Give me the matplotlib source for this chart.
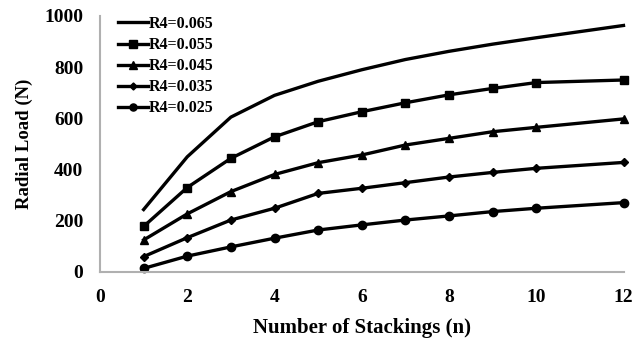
import matplotlib
matplotlib.use("Agg")
import matplotlib.pyplot as plt

# --- data ---
n_stack = [1, 2, 3, 4, 5, 6, 7, 8, 9, 10, 12]

load_065 = [244, 450, 605, 690, 745, 790, 830, 862, 890, 915, 963]
load_055 = [178, 330, 444, 528, 587, 626, 661, 692, 717, 740, 750]
load_045 = [125, 227, 314, 381, 427, 457, 496, 522, 548, 565, 598]
load_035 = [60, 134, 203, 249, 307, 327, 349, 371, 389, 405, 428]
load_025 = [14, 62, 98, 132, 164, 184, 203, 219, 236, 249, 271]

labels = ["R4=0.065", "R4=0.055", "R4=0.045", "R4=0.035", "R4=0.025"]
markers = [None, "s", "^", "D", "o"]
msizes = [0, 6.2, 6, 4.2, 6]

x_ticks = [0, 2, 4, 6, 8, 10, 12]
y_ticks = [0, 200, 400, 600, 800, 1000]

plt.rcParams["font.family"] = ["Liberation Serif", "DejaVu Serif"]
plt.rcParams["font.weight"] = "bold"

fig = plt.figure(figsize=(6.44, 3.41), dpi=100)
ax = fig.add_axes([100 / 644, 1 - 272 / 341, 523.5 / 644, 256 / 341])

series = [load_065, load_055, load_045, load_035, load_025]
for vals, lab, mk, ms in zip(series, labels, markers, msizes):
    ax.plot(n_stack, vals, color="black", lw=2.4, marker=mk, markersize=ms,
            label=lab, clip_on=False)

ax.set_xlim(0, 12)
ax.set_ylim(0, 1000)
ax.set_xticks(x_ticks)
ax.set_yticks(y_ticks)
ax.tick_params(length=0, labelsize=14)
ax.tick_params(axis="x", pad=12)
ax.tick_params(axis="y", pad=12)
for lab in ax.get_xticklabels() + ax.get_yticklabels():
    lab.set_fontweight("bold")

for side in ["top", "right"]:
    ax.spines[side].set_visible(False)
for side in ["left", "bottom"]:
    ax.spines[side].set_color("#b0b0b0")
    ax.spines[side].set_linewidth(1.5)

ax.set_xlabel("Number of Stackings (n)", fontsize=15, fontweight="bold", labelpad=9)
ax.set_ylabel("Radial Load (N)", fontsize=13.5, fontweight="bold", labelpad=8)

leg = ax.legend(loc="upper left", bbox_to_anchor=(118 / 644, 1 - 16 / 341),
                bbox_transform=fig.transFigure, frameon=False, borderpad=0,
                borderaxespad=0, handlelength=1.9, handletextpad=0.05,
                labelspacing=0.32, markerscale=0.85,
                prop={"size": 11.5, "weight": "bold"})

fig.savefig("out.png", dpi=100)
